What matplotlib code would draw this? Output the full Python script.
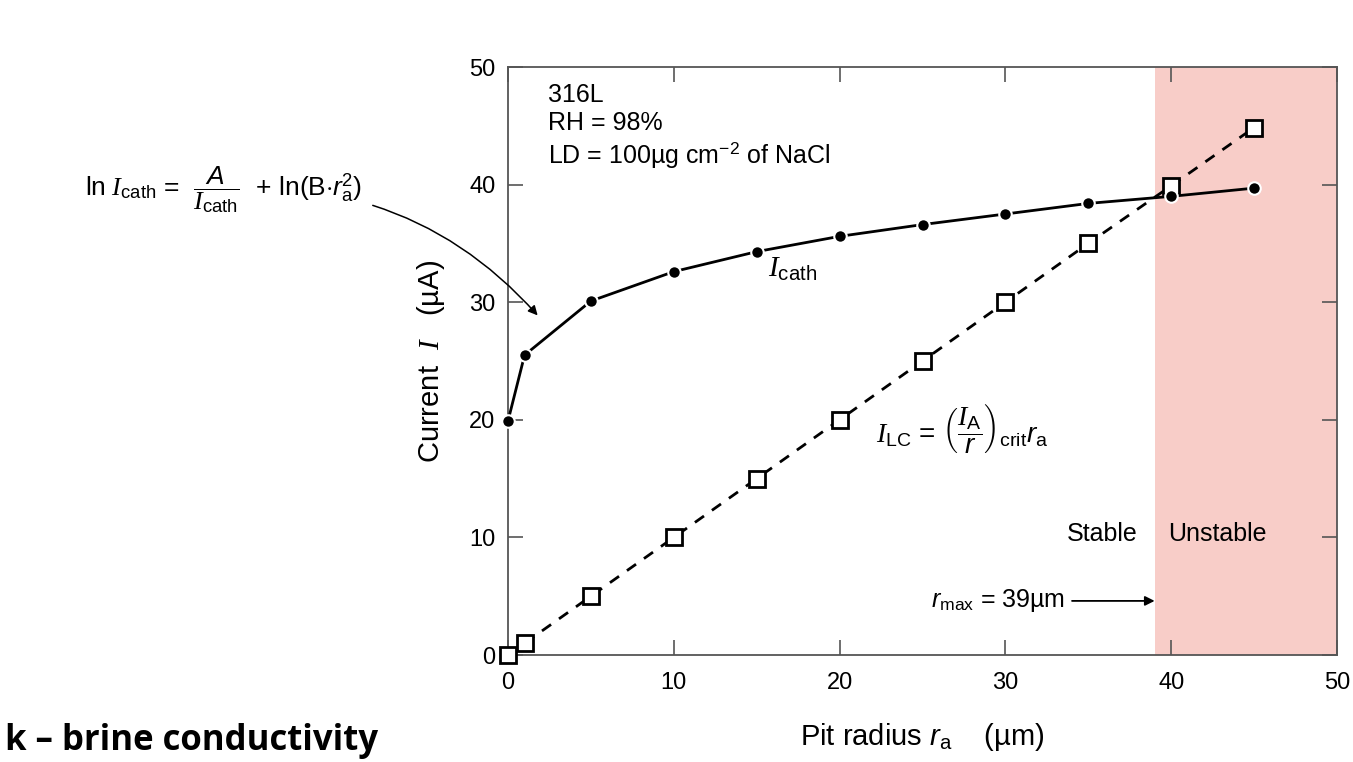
import numpy as np
import matplotlib.pyplot as plt

plt.rcParams['font.family'] = ['Liberation Sans', 'DejaVu Sans']
plt.rcParams['mathtext.fontset'] = 'custom'
plt.rcParams['mathtext.rm'] = 'Liberation Sans'
plt.rcParams['mathtext.it'] = 'Liberation Serif:italic'
plt.rcParams['mathtext.sf'] = 'Liberation Sans:italic'
plt.rcParams['mathtext.bf'] = 'Liberation Sans:bold'

# Datos
radius = [0, 1, 5, 10, 15, 20, 25, 30, 35, 40, 45]
i_cath = [19.9, 25.5, 30.1, 32.6, 34.3, 35.6, 36.6, 37.5, 38.4, 39.0, 39.7]
i_lc = [0, 1, 5, 10, 15, 20, 25, 30, 35, 39.9, 44.85]
r_max = 39

fig = plt.figure(figsize=(13.53, 7.62), dpi=100)
ax = fig.add_axes([508 / 1353, 1 - 655 / 762, (1337 - 508) / 1353, (655 - 67) / 762])

# Zona inestable
ax.axvspan(r_max, 50, color='#f8cdc8', zorder=0, lw=0)

ax.plot(radius, i_lc, color='black', lw=2, ls=(0, (4, 3.5)), zorder=2)
ax.plot(radius, i_lc, ls='none', marker='s', ms=11, mfc='white', mec='black',
        mew=2, zorder=4, clip_on=False)
ax.plot(radius, i_cath, color='black', lw=2, zorder=3)
ax.plot(radius, i_cath, ls='none', marker='o', ms=9, mfc='black', mec='white',
        mew=1.5, zorder=5, clip_on=False)

ax.set_xlim(0, 50)
ax.set_ylim(0, 50)
ax.set_xticks([0, 10, 20, 30, 40, 50])
ax.set_yticks([0, 10, 20, 30, 40, 50])
ax.tick_params(direction='in', length=11, width=1.2, color='#555555',
               labelsize=17, top=True, right=True)
ax.tick_params(axis='x', pad=12)
ax.tick_params(axis='y', pad=9)
for s in ax.spines.values():
    s.set_color('#555555')
    s.set_linewidth(1.3)

ax.set_xlabel(r'Pit radius $\mathsf{r}_{\mathrm{a}}$    (µm)', fontsize=21, labelpad=20)
ax.set_ylabel(r'Current  $\mathit{I}$   (µA)', fontsize=21, labelpad=16)

ax.text(2.4, 48.6, '316L\nRH = 98%\nLD = 100µg cm$^{-2}$ of NaCl',
        fontsize=18, va='top', ha='left', linespacing=1.2)
ax.text(15.7, 32.2, r'$\mathit{I}_{\mathrm{cath}}$', fontsize=21)
ax.text(22.2, 19.3,
        r'$\mathit{I}_{\mathrm{LC}}$ = $\left(\dfrac{\mathit{I}_{\mathrm{A}}}{\mathsf{r}}\right)_{\mathrm{crit}}\mathsf{r}_{\mathrm{a}}$',
        fontsize=20, va='center')
ax.text(38.0, 10.3, 'Stable', fontsize=18, ha='right', va='center')
ax.text(39.8, 10.3, 'Unstable', fontsize=18, ha='left', va='center')
ax.annotate(r'$\mathsf{r}_{\mathrm{max}}$ = 39µm', xy=(r_max, 4.6), xytext=(33.6, 4.6),
            fontsize=18, ha='right', va='center',
            arrowprops=dict(arrowstyle='-|>', color='black', lw=1.3, mutation_scale=14,
                            shrinkA=3, shrinkB=0))

ax.annotate(r'$\mathrm{ln}\ \mathit{I}_{\mathrm{cath}}$ =  $\dfrac{\mathsf{A}}{\mathit{I}_{\mathrm{cath}}}$  + ln(B$\cdot\mathsf{r}_{\mathrm{a}}^{2}$)',
            xy=(1.9, 28.7), xycoords='data',
            xytext=(362 / 1353, 1 - 190 / 762), textcoords='figure fraction',
            fontsize=19, ha='right', va='center',
            arrowprops=dict(arrowstyle='-|>', color='black', lw=1.1, mutation_scale=14,
                            connectionstyle='arc3,rad=-0.25', shrinkA=6, shrinkB=2))

fig.text(5 / 1353, 1 - 750 / 762, 'k – brine conductivity', fontsize=25,
         fontweight='bold', family=['Open Sans', 'DejaVu Sans'], ha='left', va='baseline')

plt.savefig('out.png', dpi=100)
